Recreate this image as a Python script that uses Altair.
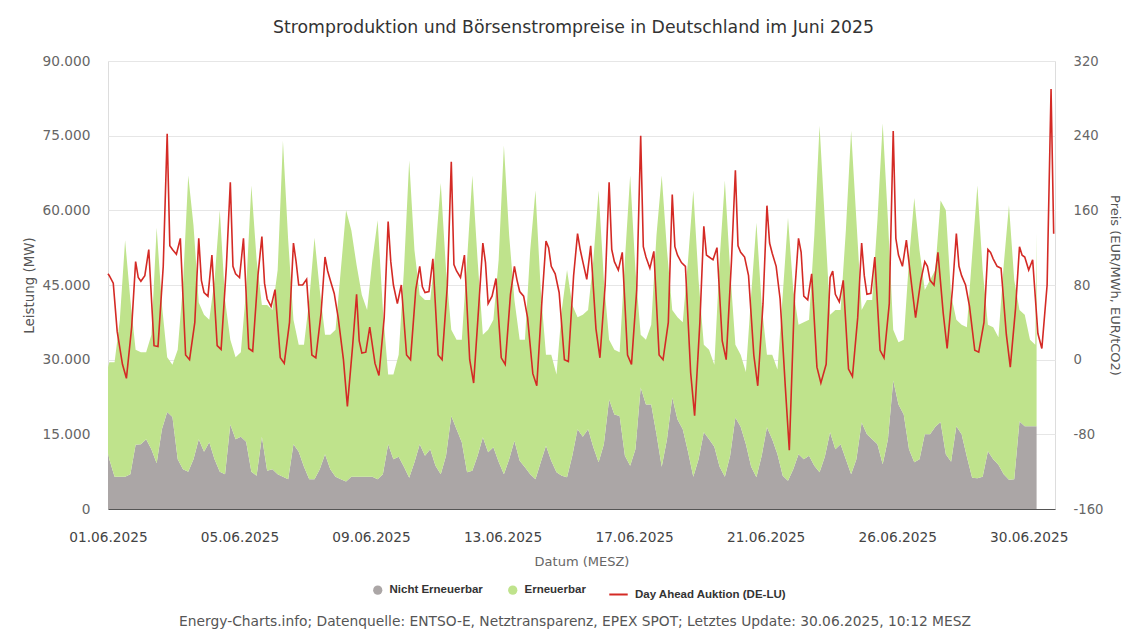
import altair as alt
import pandas as pd

# ---------------- data ----------------
TAGE = 30
PREIS_STUNDEN = [1, 4, 7, 11, 14, 18, 21, 23]   # hours of day for price samples
GEN_STUNDEN = [1, 5, 9, 13, 17, 21]              # hours of day for generation samples
LETZTER_TAG_GEN_STUNDEN = [1, 5, 9, 10]          # generation data ends 30.06 ~10:00

PREIS_START = 92          # 01.06. 00:00
GESAMT_START = 28500
NICHT_START = 11200

# Day Ahead Auktion (DE-LU), EUR/MWh, 8 values per day
preis = [
    90, 82, 30, -5, -20, 35, 105, 88,        # 01.06
    84, 90, 118, 15, 14, 100, 242, 122,      # 02.06
    118, 113, 130, 5, 0, 40, 130, 85,        # 03.06
    72, 68, 112, 15, 11, 100, 190, 100,      # 04.06
    92, 88, 130, 12, 9, 90, 132, 82,         # 05.06
    65, 57, 75, 2, -4, 40, 125, 105,         # 06.06
    80, 80, 86, 5, 2, 50, 110, 95,           # 07.06
    85, 71, 45, 0, -50, 15, 70, 20,          # 08.06
    7, 8, 35, -4, -17, 45, 148, 105,         # 09.06
    80, 60, 80, 5, 0, 75, 100, 78,           # 10.06
    72, 73, 108, 5, 0, 80, 212, 102,         # 11.06
    95, 88, 112, 0, -25, 60, 125, 104,       # 12.06
    60, 68, 87, 2, -5, 70, 100, 85,          # 13.06
    73, 68, 45, -15, -28, 65, 127, 120,      # 14.06
    100, 92, 72, 0, -2, 90, 135, 118,        # 15.06
    105, 86, 122, 33, 2, 80, 190, 118,       # 16.06
    105, 96, 115, 5, -5, 75, 240, 121,       # 17.06
    110, 98, 116, 5, 0, 40, 177, 121,        # 18.06
    112, 104, 100, -14, -60, 40, 143, 112,   # 19.06
    110, 107, 120, 20, 0, 105, 203, 122,     # 20.06
    115, 110, 90, 5, -28, 60, 165, 125,      # 21.06
    114, 100, 65, -30, -97, 70, 130, 115,    # 22.06
    68, 64, 92, -8, -25, -5, 88, 95,         # 23.06
    70, 62, 85, -10, -18, 45, 125, 90,       # 24.06
    70, 71, 110, 10, 2, 60, 245, 130,        # 25.06
    112, 100, 128, 80, 45, 85, 105, 100,     # 26.06
    85, 80, 115, 50, 12, 75, 135, 100,       # 27.06
    90, 80, 57, 10, 8, 40, 118, 115,         # 28.06
    108, 100, 98, 27, -8, 55, 121, 112,      # 29.06
    110, 96, 107, 28, 12, 80, 290, 135,      # 30.06
]

# top of the stacked area (total generation), MW, 6 values per day
gesamt = [
    29500, 29500, 38000, 54000, 42000, 32000,   # 01.06
    31500, 31500, 35000, 56500, 41000, 30500,   # 02.06
    29000, 32000, 45000, 67000, 57000, 41500,   # 03.06
    39000, 38000, 46000, 60000, 42000, 34000,   # 04.06
    30500, 31500, 44000, 65000, 50000, 41000,   # 05.06
    41000, 40000, 48000, 74000, 54000, 38000,   # 06.06
    33000, 33000, 42000, 54500, 44000, 35000,   # 07.06
    35000, 36000, 48000, 60000, 56000, 49000,   # 08.06
    43000, 40000, 50000, 58000, 40000, 27000,   # 09.06
    27000, 31000, 48000, 70000, 52000, 43000,   # 10.06
    42000, 42000, 52000, 65500, 48000, 36000,   # 11.06
    34000, 34000, 50000, 67000, 50000, 35000,   # 12.06
    36000, 38000, 50000, 73000, 55000, 42000,   # 13.06
    34000, 34000, 52000, 64000, 44000, 31000,   # 14.06
    31000, 27000, 40000, 48000, 41000, 38500,   # 15.06
    39000, 40000, 50000, 64000, 46000, 34000,   # 16.06
    32000, 31500, 50000, 67000, 48000, 35000,   # 17.06
    34000, 37000, 55000, 67000, 52000, 40000,   # 18.06
    38500, 37500, 50000, 64000, 46000, 33000,   # 19.06
    32000, 29000, 50000, 66000, 48000, 33000,   # 20.06
    31000, 27500, 43000, 57500, 41000, 31000,   # 21.06
    31000, 28000, 43000, 58500, 44000, 37000,   # 22.06
    37500, 38000, 55000, 77000, 58000, 39000,   # 23.06
    40000, 40000, 56000, 76000, 58000, 40000,   # 24.06
    42000, 42000, 58000, 77500, 58000, 36000,   # 25.06
    33500, 34000, 50000, 62500, 52000, 44000,   # 26.06
    46000, 48000, 62000, 60000, 43000, 38000,   # 27.06
    37000, 36500, 51000, 65000, 48000, 37000,   # 28.06
    36500, 34500, 49000, 61000, 46000, 40000,   # 29.06
    39000, 34000, 33000, 55500,                 # 30.06 (until ~10:00)
]

# Nicht Erneuerbar, MW
nicht = [
    10000, 6500, 6500, 6500, 7000, 12900,       # 01.06
    13000, 14000, 12000, 9200, 16000, 19500,    # 02.06
    18500, 10000, 8000, 7500, 10000, 14000,     # 03.06
    11500, 13400, 10000, 7500, 7000, 17000,     # 04.06
    14000, 14500, 13500, 7500, 6700, 14500,     # 05.06
    7700, 8000, 7000, 6500, 6000, 13000,        # 06.06
    11500, 8500, 6000, 6000, 8000, 11000,       # 07.06
    8000, 6500, 6000, 5500, 6500, 6500,         # 08.06
    6500, 6500, 6500, 6000, 7000, 13000,        # 09.06
    10000, 10500, 8500, 6300, 9400, 13000,      # 10.06
    10700, 12000, 8700, 7000, 10700, 18700,     # 11.06
    16000, 13400, 7400, 7700, 10700, 14400,     # 12.06
    11400, 12400, 9500, 7000, 10000, 13700,     # 13.06
    9700, 8400, 7000, 6000, 9400, 12700,        # 14.06
    9700, 7400, 6700, 6400, 10700, 16000,       # 15.06
    14500, 16000, 12400, 9400, 13000, 22000,    # 16.06
    19000, 18700, 10700, 8700, 12000, 24400,    # 17.06
    21000, 21000, 15000, 8500, 14000, 22400,    # 18.06
    18000, 16000, 11500, 6500, 10000, 15400,    # 19.06
    14000, 12500, 8500, 6500, 10700, 18400,     # 20.06
    16500, 13000, 8500, 6400, 10700, 16400,     # 21.06
    14000, 11000, 6700, 5700, 8000, 11000,      # 22.06
    10000, 10700, 8700, 7400, 10500, 15400,     # 23.06
    12000, 13000, 10000, 7000, 10000, 17400,    # 24.06
    15000, 14000, 13000, 9000, 14000, 25800,    # 25.06
    21000, 19000, 12000, 9400, 10000, 15000,    # 26.06
    15000, 16500, 17500, 11000, 9500, 16600,    # 27.06
    15000, 10500, 6300, 6200, 6500, 11600,      # 28.06
    10000, 8900, 7000, 5900, 6000, 17600,       # 29.06
    16600, 16600, 16600, 16600,                 # 30.06
]

X_TICKS = [0, 100, 200, 300, 400, 500, 600, 700]   # hours since 01.06. 00:00
X_LABELS = ["01.06.2025", "05.06.2025", "09.06.2025", "13.06.2025",
            "17.06.2025", "21.06.2025", "26.06.2025", "30.06.2025"]
Y_LEFT_TICKS = [0, 15000, 30000, 45000, 60000, 75000, 90000]
Y_RIGHT_TICKS = [-160, -80, 0, 80, 160, 240, 320]

QUELLEN = ["Nicht Erneuerbar", "Erneuerbar"]
QUELLEN_FARBEN = ["#aba6a6", "#bfe38c"]
PREIS_SERIE = ["Day Ahead Auktion (DE-LU)"]
PREIS_FARBE = ["#d42a25"]

TITEL = "Stromproduktion und Börsenstrompreise in Deutschland im Juni 2025"
QUELLE = ("Energy-Charts.info; Datenquelle: ENTSO-E, Netztransparenz, EPEX SPOT; "
          "Letztes Update: 30.06.2025, 10:12 MESZ")

# ---------------- tables ----------------
preis_h = [0] + [d * 24 + h for d in range(TAGE) for h in PREIS_STUNDEN]
preis_df = pd.DataFrame({"stunde": preis_h, "preis": [PREIS_START] + preis,
                         "serie": PREIS_SERIE[0]})

gen_h = [0] + [d * 24 + h for d in range(TAGE - 1) for h in GEN_STUNDEN] + \
        [(TAGE - 1) * 24 + h for h in LETZTER_TAG_GEN_STUNDEN]
gen = pd.DataFrame({"stunde": gen_h,
                    "gesamt": [GESAMT_START] + gesamt,
                    "Nicht Erneuerbar": [NICHT_START] + nicht})
gen["Erneuerbar"] = gen["gesamt"] - gen["Nicht Erneuerbar"]
gen_long = gen.melt(id_vars="stunde", value_vars=QUELLEN,
                    var_name="quelle", value_name="wert")
gen_long["ord"] = (gen_long["quelle"] == "Erneuerbar").astype(int)

# ---------------- chart ----------------
FONT = "DejaVu Sans"
LEG_FONT = "Liberation Sans"
label_expr_x = "[" + ",".join("'%s'" % s for s in X_LABELS) + "][round(datum.value/100)]"

x_enc = alt.X(
    "stunde:Q",
    scale=alt.Scale(domain=[0, 720], nice=False, zero=False),
    axis=alt.Axis(values=X_TICKS, labelExpr=label_expr_x, title="Datum (MESZ)",
                  grid=False, ticks=False, tickSize=0, domainColor="#555555",
                  domainWidth=1, labelFont=FONT, labelFontSize=13.7, labelColor="#444444",
                  labelPadding=21, labelFlush=False, labelOverlap=False,
                  titleFont=FONT, titleFontSize=13, titleColor="#666666",
                  titleFontWeight="normal", titlePadding=12),
)

flaechen = alt.Chart(gen_long).mark_area(interpolate="linear", opacity=1).encode(
    x=x_enc,
    y=alt.Y("wert:Q", stack="zero",
            scale=alt.Scale(domain=[0, 90000], nice=False),
            axis=alt.Axis(values=Y_LEFT_TICKS, title="Leistung (MW)",
                          labelExpr="replace(format(datum.value, ','), ',', '.')",
                          grid=True, gridColor="#e6e6e6", gridWidth=1,
                          domain=False, ticks=False, tickSize=0,
                          labelFont=FONT, labelFontSize=13.7, labelColor="#666666",
                          labelPadding=18, titleFont=FONT, titleFontSize=13.4,
                          titleColor="#555555", titleFontWeight="normal",
                          titlePadding=6)),
    color=alt.Color("quelle:N", scale=alt.Scale(domain=QUELLEN, range=QUELLEN_FARBEN),
                    legend=alt.Legend(title=None, orient="none", direction="horizontal",
                                      legendX=264, legendY=523, symbolType="circle",
                                      symbolSize=85, symbolStrokeWidth=0,
                                      symbolOpacity=1,
                                      labelFont=LEG_FONT, labelFontSize=11.5,
                                      labelFontWeight="bold", labelColor="#333333",
                                      columnPadding=24, labelOffset=6)),
    order=alt.Order("ord:Q", sort="ascending"),
)

linie = alt.Chart(preis_df).mark_line(strokeWidth=1.6, interpolate="linear").encode(
    x=x_enc,
    y=alt.Y("preis:Q",
            scale=alt.Scale(domain=[-160, 320], nice=False, zero=False),
            axis=alt.Axis(orient="right", values=Y_RIGHT_TICKS,
                          labelExpr="datum.value < 0 ? '-' + abs(datum.value) : '' + datum.value",
                          title="Preis (EUR/MWh, EUR/tCO2)", grid=False,
                          domain=False, ticks=False, tickSize=0,
                          labelFont=FONT, labelFontSize=13.2, labelColor="#666666",
                          labelPadding=18, titleFont=FONT, titleFontSize=13,
                          titleColor="#555555", titleFontWeight="normal",
                          titlePadding=5)),
    stroke=alt.Stroke("serie:N", scale=alt.Scale(domain=PREIS_SERIE, range=PREIS_FARBE),
                      legend=alt.Legend(title=None, orient="none", legendX=500,
                                        legendY=523, symbolType="stroke",
                                        symbolSize=340, symbolStrokeWidth=2,
                                        labelFont=LEG_FONT, labelFontSize=11.5,
                                        labelFontWeight="bold", labelColor="#333333",
                                        labelOffset=6)),
)

quelle = alt.Chart(pd.DataFrame({"t": [QUELLE]})).mark_text(
    font=FONT, fontSize=13.8, color="#555555", align="center", baseline="middle"
).encode(text="t:N", x=alt.value(467), y=alt.value(561))

chart = alt.layer(flaechen, linie, quelle).resolve_scale(
    y="independent"
).properties(
    width=947, height=448,
    padding={"left": 14, "top": 10, "right": 4, "bottom": 0},
    title=alt.TitleParams(TITEL, font=FONT, fontSize=17.3, fontWeight="normal",
                          color="#333333", offset=18, anchor="middle", dx=-8),
).configure_view(stroke=None).configure(background="white")

chart.save("out.html", embed_options={"renderer": "svg", "actions": False})
